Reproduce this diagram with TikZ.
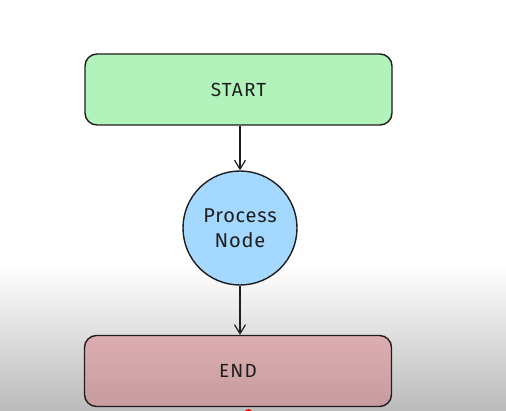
\documentclass[tikz,border=0pt]{standalone}
\usepackage{fontspec}
\setmainfont{Fira Sans}
\usetikzlibrary{arrows.meta}
\definecolor{startfill}{HTML}{B2F2BB}
\definecolor{procfill}{HTML}{A5D8FF}
\definecolor{endtop}{HTML}{DDAEB1}
\definecolor{endbot}{HTML}{C69C9E}
\definecolor{strokec}{HTML}{1E1E1E}
\definecolor{bggray}{HTML}{BBBBBB}
\begin{document}
\begin{tikzpicture}[x=1pt,y=-1pt,
  boxnode/.style={draw=strokec, line width=1.4pt, rounded corners=12pt,
    minimum width=307pt, minimum height=71pt, inner sep=0pt,
    font=\fontsize{19}{22}\selectfont\addfontfeature{LetterSpace=6}, text=strokec},
  circnode/.style={draw=strokec, line width=1.4pt, circle, fill=procfill,
    minimum size=114pt, inner sep=0pt, align=center,
    font=\fontsize{20}{25}\selectfont\addfontfeature{LetterSpace=4}, text=strokec},
  flow/.style={draw=strokec, line width=1.2pt, -{Straight Barb[length=9pt,width=11pt,line width=1.2pt]}}]
\useasboundingbox (0,0) rectangle (506,411);
\fill[white] (0,0) rectangle (506,266);
\shade[top color=white, bottom color=bggray] (0,265) rectangle (506,411);
\node[boxnode, fill=startfill] (start) at (238.5,89.5) {START};
\node[circnode] (proc) at (240,228) {Process\\Node};
\node[boxnode, top color=endtop, bottom color=endbot] (end) at (238,371) {END};
\draw[flow] (start.south -| proc.north) -- (proc.north);
\draw[flow] (proc.south) -- (proc.south |- end.north);
\fill[red] (248.5,413) circle (4pt);
\end{tikzpicture}
\end{document}
